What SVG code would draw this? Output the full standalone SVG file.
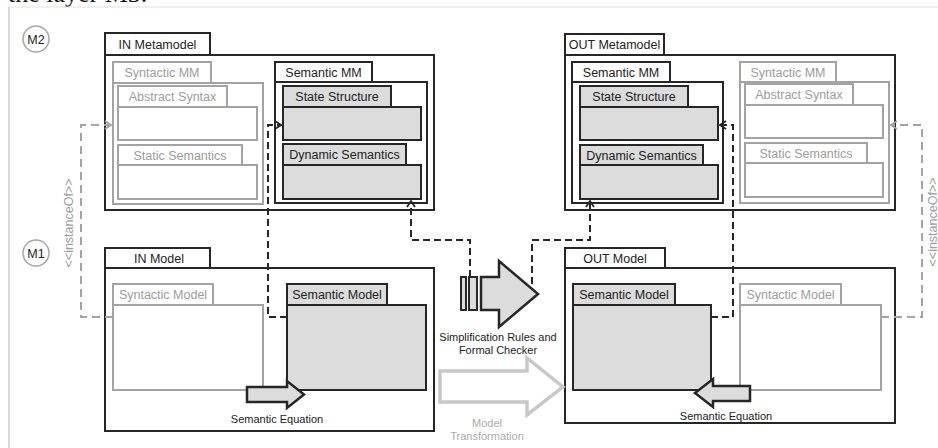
<svg xmlns="http://www.w3.org/2000/svg" width="938" height="448" viewBox="0 0 938 448">
<style>
.dk{fill:#fff;stroke:#262626;stroke-width:2}
.sem{fill:#dcdcdc;stroke:#262626;stroke-width:2}
.gr{fill:#fff;stroke:#a3a3a3;stroke-width:2}
.t{font-family:"Liberation Sans",Arial,sans-serif;font-size:12.5px;fill:#222;text-anchor:middle}
.tg{font-family:"Liberation Sans",Arial,sans-serif;font-size:12.5px;fill:#9c9c9c;text-anchor:middle}
.ts{font-family:"Liberation Sans",Arial,sans-serif;font-size:11px;fill:#222;text-anchor:middle}
.tsg{font-family:"Liberation Sans",Arial,sans-serif;font-size:11px;fill:#ababab;text-anchor:middle}
.cd{fill:none;stroke:#262626;stroke-width:2;stroke-dasharray:7 4}
.cg{fill:none;stroke:#a3a3a3;stroke-width:2;stroke-dasharray:8 5}
</style>
<defs>
<marker id="ad" viewBox="0 0 10 10" refX="9" refY="5" markerWidth="10" markerHeight="10" markerUnits="userSpaceOnUse" orient="auto">
<path d="M3,1 L9,5 L3,9" fill="none" stroke="#262626" stroke-width="1.8"/>
</marker>
<marker id="ag" viewBox="0 0 10 10" refX="9" refY="5" markerWidth="10" markerHeight="10" markerUnits="userSpaceOnUse" orient="auto">
<path d="M3,1 L9,5 L3,9" fill="none" stroke="#a3a3a3" stroke-width="1.8"/>
</marker>
</defs>
<rect width="938" height="448" fill="#fff"/>
<g id="page">
<text x="8" y="1.5" font-family="Liberation Serif,serif" font-size="26" fill="#111">the layer M3.</text>
<line x1="9" y1="7" x2="938" y2="7" stroke="#e2e2e2" stroke-width="1"/>
<line x1="9" y1="7" x2="9" y2="448" stroke="#b0b0b0" stroke-width="1"/>
</g>
<g id="m2">
<circle cx="36" cy="39" r="13" fill="#fff" stroke="#a8a8a8" stroke-width="1.5"/>
<text x="36" y="44" class="t" font-size="13">M2</text>
</g>
<g id="m1">
<circle cx="36" cy="253" r="13" fill="#fff" stroke="#a8a8a8" stroke-width="1.5"/>
<text x="36" y="258" class="t" font-size="13">M1</text>
</g>

<g id="in-metamodel">
<rect class="dk" x="105" y="33" width="105" height="22"/>
<rect class="dk" x="105" y="55" width="329" height="155"/>
<text class="t" x="157.5" y="49">IN Metamodel</text>
</g>
<g id="in-syntactic-mm">
<rect class="gr" x="113" y="62" width="98" height="21"/>
<rect class="gr" x="113" y="83" width="150" height="121"/>
<text class="tg" x="162" y="77">Syntactic MM</text>
</g>
<g id="in-abstract-syntax">
<rect class="gr" x="118" y="86" width="109" height="21"/>
<rect class="gr" x="118" y="107" width="139" height="33"/>
<text class="tg" x="172.5" y="101">Abstract Syntax</text>
</g>
<g id="in-static-semantics">
<rect class="gr" x="118" y="145" width="124" height="20"/>
<rect class="gr" x="118" y="165" width="139" height="34"/>
<text class="tg" x="180" y="159.5">Static Semantics</text>
</g>
<g id="in-semantic-mm">
<rect class="dk" x="275" y="62" width="97" height="20"/>
<rect class="dk" x="275" y="82" width="152" height="121"/>
<text class="t" x="323.5" y="76.5">Semantic MM</text>
</g>
<g id="in-state-structure">
<rect class="sem" x="283" y="86" width="108" height="21"/>
<rect class="sem" x="283" y="107" width="138" height="33"/>
<text class="t" x="337" y="101">State Structure</text>
</g>
<g id="in-dynamic-semantics">
<rect class="sem" x="283" y="144" width="123" height="21"/>
<rect class="sem" x="283" y="165" width="138" height="34"/>
<text class="t" x="344.5" y="159">Dynamic Semantics</text>
</g>

<g id="out-metamodel">
<rect class="dk" x="565" y="34" width="99" height="21"/>
<rect class="dk" x="565" y="55" width="330" height="155"/>
<text class="t" x="614.5" y="49">OUT Metamodel</text>
</g>
<g id="out-semantic-mm">
<rect class="dk" x="572" y="62" width="98" height="20"/>
<rect class="dk" x="572" y="82" width="151" height="121"/>
<text class="t" x="621" y="76.5">Semantic MM</text>
</g>
<g id="out-state-structure">
<rect class="sem" x="580" y="86" width="108" height="21"/>
<rect class="sem" x="580" y="107" width="138" height="33"/>
<text class="t" x="634" y="101">State Structure</text>
</g>
<g id="out-dynamic-semantics">
<rect class="sem" x="580" y="145" width="123" height="20"/>
<rect class="sem" x="580" y="165" width="138" height="34"/>
<text class="t" x="641.5" y="159.5">Dynamic Semantics</text>
</g>
<g id="out-syntactic-mm">
<rect class="gr" x="740" y="62" width="96" height="20"/>
<rect class="gr" x="740" y="82" width="149" height="121"/>
<text class="tg" x="788" y="76.5">Syntactic MM</text>
</g>
<g id="out-abstract-syntax">
<rect class="gr" x="745" y="84" width="108" height="21"/>
<rect class="gr" x="745" y="105" width="138" height="33"/>
<text class="tg" x="799" y="99">Abstract Syntax</text>
</g>
<g id="out-static-semantics">
<rect class="gr" x="745" y="143" width="122" height="20"/>
<rect class="gr" x="745" y="163" width="138" height="34"/>
<text class="tg" x="806" y="157.5">Static Semantics</text>
</g>

<g id="in-model">
<rect class="dk" x="105" y="248" width="105" height="20"/>
<rect class="dk" x="105" y="268" width="329" height="163"/>
<text class="t" x="159" y="262.5">IN Model</text>
</g>
<g id="in-syntactic-model">
<rect class="gr" x="113" y="284" width="100" height="21"/>
<rect class="gr" x="113" y="305" width="150" height="85"/>
<text class="tg" x="163" y="299">Syntactic Model</text>
</g>
<g id="in-semantic-model">
<rect class="sem" x="287" y="284" width="100" height="21"/>
<rect class="sem" x="287" y="305" width="139" height="85"/>
<text class="t" x="337" y="299">Semantic Model</text>
</g>

<g id="out-model">
<rect class="dk" x="565" y="248" width="100" height="20"/>
<rect class="dk" x="565" y="268" width="330" height="155"/>
<text class="t" x="615" y="262.5">OUT Model</text>
</g>
<g id="out-semantic-model">
<rect class="sem" x="573" y="284" width="102" height="21"/>
<rect class="sem" x="573" y="305" width="138" height="85"/>
<text class="t" x="624" y="299">Semantic Model</text>
</g>
<g id="out-syntactic-model">
<rect class="gr" x="740" y="284" width="101" height="21"/>
<rect class="gr" x="740" y="305" width="141" height="85"/>
<text class="tg" x="790.5" y="299">Syntactic Model</text>
</g>

<g id="connectors">
<path class="cg" d="M113,317 H81 V125 H111" marker-end="url(#ag)"/>
<path class="cg" d="M881,317 H922 V125 H891" marker-end="url(#ag)"/>
<path class="cd" d="M287,317 H268 V125 H281" marker-end="url(#ad)"/>
<path class="cd" d="M711,317 H733 V125 H720" marker-end="url(#ad)"/>
<path class="cd" d="M470,277 V240 H411 V201" marker-end="url(#ad)"/>
<path class="cd" d="M532,284 V240 H590 V201" marker-end="url(#ad)"/>
<text class="tg" transform="translate(73,223) rotate(-90)">&lt;&lt;instanceOf&gt;&gt;</text>
<text class="tg" transform="translate(936.5,222) rotate(-90)">&lt;&lt;instanceOf&gt;&gt;</text>
</g>

<g id="simplification">
<rect x="461" y="277" width="5" height="33" fill="#dcdcdc" stroke="#262626" stroke-width="2"/>
<rect x="469" y="277" width="8" height="33" fill="#dcdcdc" stroke="#262626" stroke-width="2"/>
<path d="M481,277 H499 V261 L538,294 L499,327 V310 H481 Z" fill="#dcdcdc" stroke="#262626" stroke-width="2.5" stroke-linejoin="miter"/>
<text class="ts" x="498" y="341">Simplification Rules and</text>
<text class="ts" x="498" y="354">Formal Checker</text>
</g>
<g id="model-transformation">
<path d="M440,371 H527 V358 L563,387 L527,415 V402 H440 Z" fill="#fff" stroke="#c8c8c8" stroke-width="3.5"/>
<text class="tsg" x="487" y="427">Model</text>
<text class="tsg" x="487" y="440">Transformation</text>
</g>
<g id="in-semantic-equation">
<path d="M247,387 H287 V381 L304,394.5 L287,408 V402 H247 Z" fill="#dcdcdc" stroke="#262626" stroke-width="2.5"/>
<text class="ts" x="277" y="423">Semantic Equation</text>
</g>
<g id="out-semantic-equation">
<path d="M750,386 H713 V379 L695,393 L713,407 V401 H750 Z" fill="#dcdcdc" stroke="#262626" stroke-width="2.5"/>
<text class="ts" x="726" y="420">Semantic Equation</text>
</g>
</svg>
